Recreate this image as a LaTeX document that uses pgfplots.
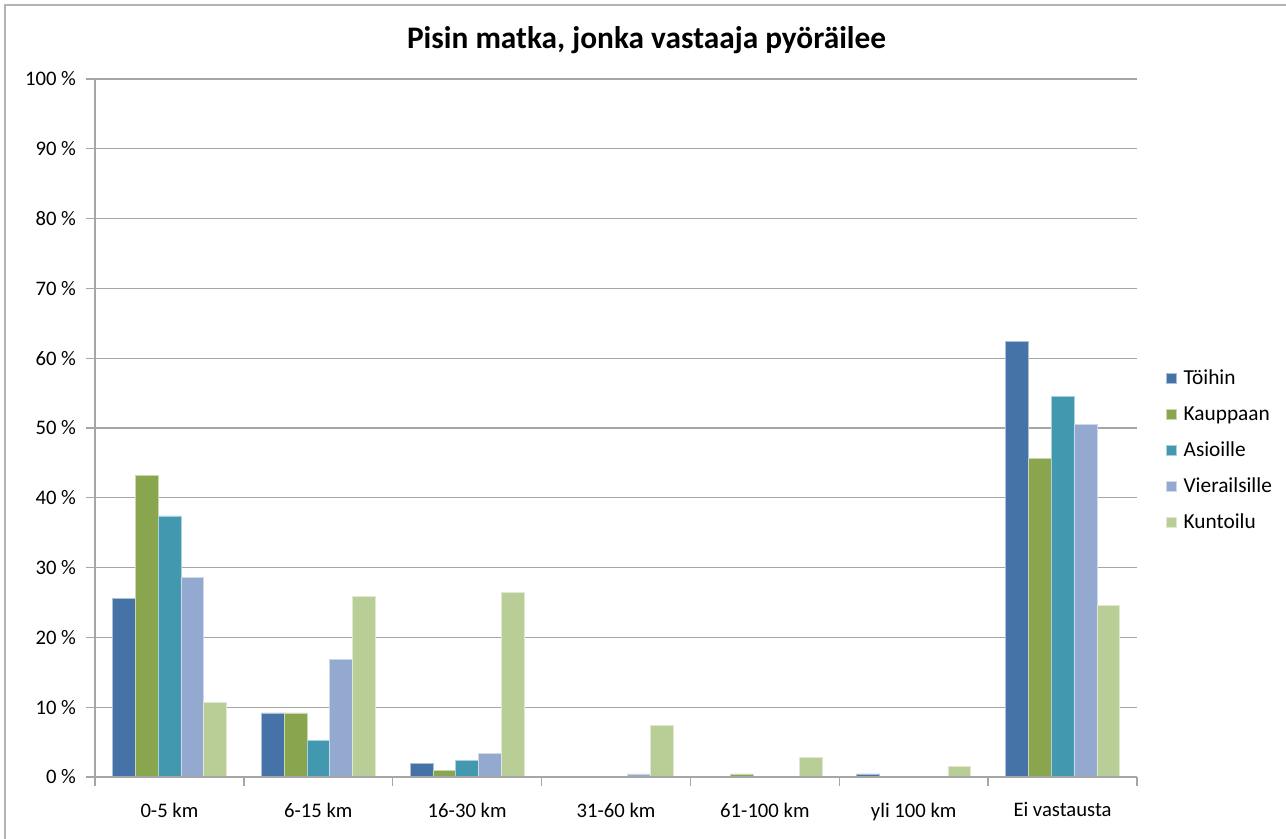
\documentclass[border=0pt]{standalone}
\usepackage{pgfplots}
\pgfplotsset{compat=1.18}
\usepackage{fontspec}
\setmainfont{Carlito}
\definecolor{cA}{HTML}{4572A7}
\definecolor{cB}{HTML}{89A54E}
\definecolor{cC}{HTML}{4198AF}
\definecolor{cD}{HTML}{93A9CF}
\definecolor{cE}{HTML}{B9CD96}
\definecolor{gridgray}{HTML}{A6A6A6}
\definecolor{bordergray}{HTML}{B3B3B3}
\begin{document}
\begin{tikzpicture}
\useasboundingbox (0,0) rectangle (964.5pt,-629.25pt);
\draw[color=bordergray, line width=1.5pt] (4pt,-629.25pt) -- (4pt,-4pt) -- (964.5pt,-4pt);
\node[font=\fontsize{23.5}{28}\selectfont\bfseries] at (484.9pt,-30pt) {Pisin matka, jonka vastaaja pyöräilee};
\begin{axis}[
  at={(71.25pt,-59.25pt)}, anchor=north west,
  scale only axis, width=781.5pt, height=523.5pt,
  ybar=0pt, bar width=17.1pt,
  ymin=0, ymax=100, xmin=-0.5, xmax=6.5,
  axis x line*=bottom, axis y line*=left,
  axis line style={color=gridgray, line width=1pt},
  ytick={0,10,...,100},
  yticklabels={0 \%,10 \%,20 \%,30 \%,40 \%,50 \%,60 \%,70 \%,80 \%,90 \%,100 \%},
  ymajorgrids, grid style={color=gridgray, line width=1pt},
  tick style={color=gridgray, line width=1pt},
  tick align=outside,
  major tick length=6.75pt,
  y tick label style={font=\fontsize{15.5}{19}\selectfont, xshift=-4pt},
  xtick={-0.5,0.5,...,6.5},
  x tick label as interval,
  xticklabels={0-5 km,6-15 km,16-30 km,31-60 km,61-100 km,yli 100 km,Ei vastausta},
  x tick label style={font=\fontsize{15.5}{19}\selectfont, yshift=-9pt},
  every axis plot/.append style={line width=0.4pt},
  legend style={draw=none, fill=none, at={(1.028,0.468)}, anchor=west,
    font=\fontsize{16}{19}\selectfont, row sep=11pt, column sep=5pt, inner sep=0pt,
    nodes={inner sep=0pt, text height=12.5pt, text depth=3.5pt}},
  legend cell align=left,
  legend image code/.code={\fill[#1] (0pt,-3.75pt) rectangle (7.5pt,3.75pt);},
]
\addplot[fill=cA, draw=cA!45!white] coordinates {(0,25.6) (1,9.2) (2,1.9) (5,0.45) (6,62.4)};
\addplot[fill=cB, draw=cB!45!white] coordinates {(0,43.2) (1,9.2) (2,1.0) (4,0.45) (6,45.7)};
\addplot[fill=cC, draw=cC!45!white] coordinates {(0,37.4) (1,5.3) (2,2.4) (6,54.5)};
\addplot[fill=cD, draw=cD!45!white] coordinates {(0,28.6) (1,16.8) (2,3.4) (3,0.45) (6,50.5)};
\addplot[fill=cE, draw=cE!45!white] coordinates {(0,10.7) (1,25.9) (2,26.5) (3,7.4) (4,2.8) (5,1.5) (6,24.6)};
\legend{Töihin,Kauppaan,Asioille,Vierailsille,Kuntoilu}
\draw[gridgray, line width=1pt] (axis cs:-0.5,0) -- (axis cs:6.5,0);
\end{axis}
\end{tikzpicture}
\end{document}
